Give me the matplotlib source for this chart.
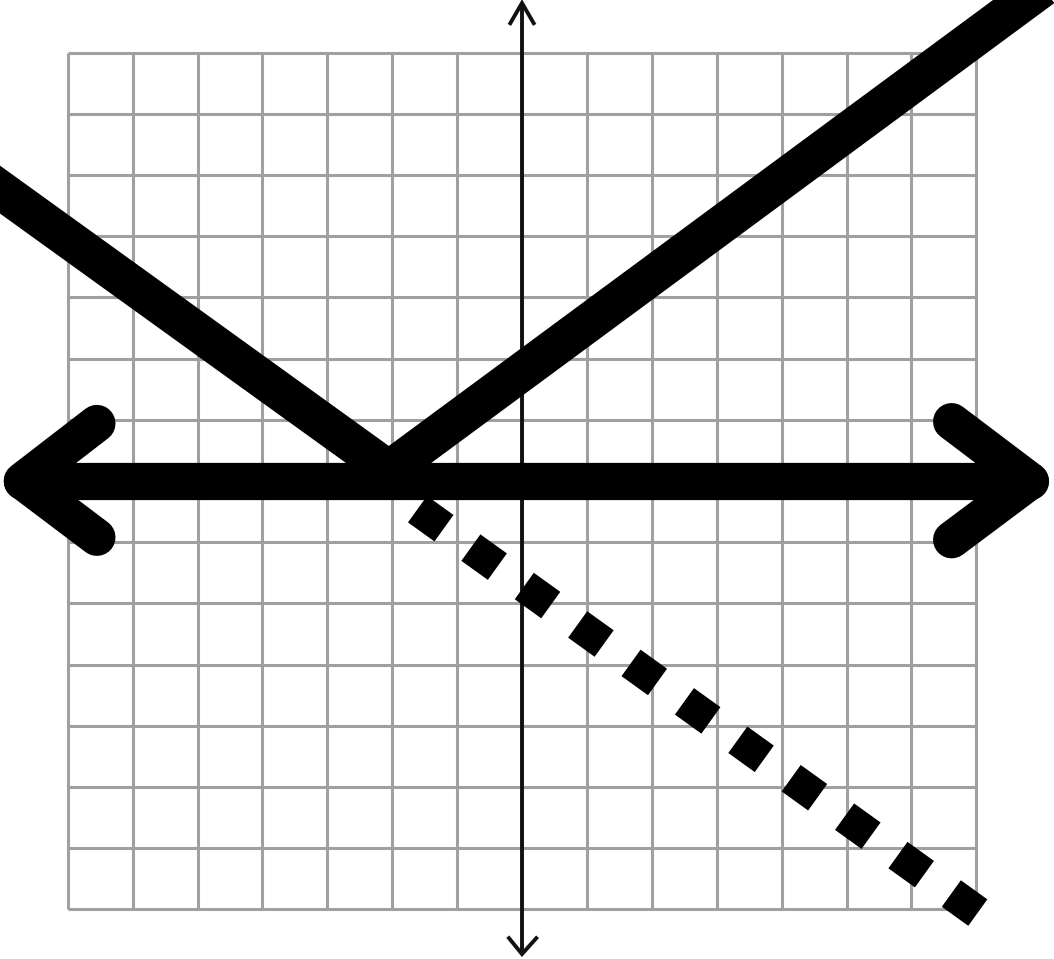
import matplotlib
matplotlib.use("Agg")
import matplotlib.pyplot as plt

# Grid (units)
grid_ticks = [-7, -6, -5, -4, -3, -2, -1, 0, 1, 2, 3, 4, 5, 6, 7]

# Solid V-shaped graph
v_x = [-8.8, -2.05, 8.9]
v_y = [5.34, 0.18, 8.75]

# Dotted ray
dot_x = [-1.61, 7.06]
dot_y = [-0.46, -7.08]

# Thick horizontal double arrow (number line)
h_x = [-7.70, 7.83]
h_y = [0.0, 0.0]
left_head_x = [-6.55, -7.70, -6.55]
left_head_y = [0.94, 0.0, -0.92]
right_head_x = [6.62, 7.83, 6.62]
right_head_y = [0.97, 0.0, -0.96]

# Thin vertical axis with small arrows
yaxis_x = [0.0, 0.0]
yaxis_y = [7.81, -7.73]
top_head_x = [-0.18, 0.0, 0.18]
top_head_y = [7.48, 7.81, 7.48]
bot_head_x = [-0.20, 0.0, 0.22]
bot_head_y = [-7.47, -7.73, -7.47]

W, H = 1054, 959
fig = plt.figure(figsize=(W / 100, H / 100), dpi=100)
ax = fig.add_axes([0, 0, 1, 1])
ax.set_xlim(-522 / 64.9, (W - 522) / 64.9)
ax.set_ylim(-(H - 481) / 61.2, 481 / 61.2)
ax.axis("off")

gcol = "#a0a0a0"
for t in grid_ticks:
    ax.plot([t, t], [-7, 7], color=gcol, lw=2.2, solid_capstyle="butt", zorder=1)
    ax.plot([-7, 7], [t, t], color=gcol, lw=2.2, solid_capstyle="butt", zorder=1)

ax.plot(yaxis_x, yaxis_y, color="#111111", lw=2.8, solid_capstyle="butt", zorder=2)
ax.plot(top_head_x, top_head_y, color="#111111", lw=2.8, solid_joinstyle="miter", zorder=2)
ax.plot(bot_head_x, bot_head_y, color="#111111", lw=2.8, solid_joinstyle="miter", zorder=2)

ax.plot(dot_x, dot_y, color="black", lw=23.5, linestyle=(0, (1, 33 / 32.5)),
        dash_capstyle="butt", zorder=3)

ax.plot(v_x, v_y, color="black", lw=28, solid_joinstyle="miter",
        solid_capstyle="projecting", zorder=4)

ax.plot(h_x, h_y, color="black", lw=26.8, solid_capstyle="round", zorder=5)
ax.plot(left_head_x, left_head_y, color="black", lw=26.8,
        solid_capstyle="round", solid_joinstyle="round", zorder=5)
ax.plot(right_head_x, right_head_y, color="black", lw=26.8,
        solid_capstyle="round", solid_joinstyle="round", zorder=5)

fig.savefig("out.png", dpi=100, facecolor="white")
